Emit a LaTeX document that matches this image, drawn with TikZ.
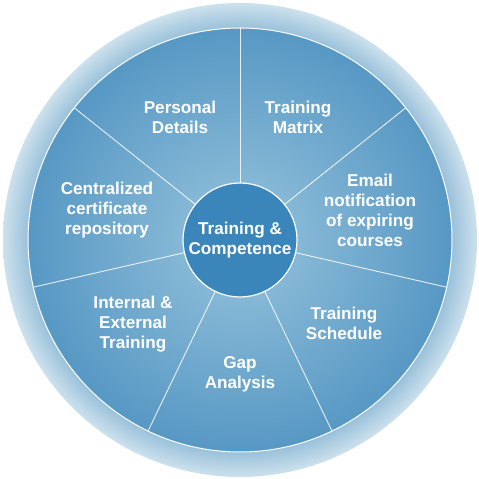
\documentclass[tikz,border=0pt]{standalone}
\usepackage{fontspec}
\setmainfont{Liberation Sans}
\usetikzlibrary{calc}
\definecolor{ringin}{HTML}{98C0DA}
\definecolor{ringout}{HTML}{CDE1ED}
\definecolor{secin}{HTML}{86B8D6}
\definecolor{secout}{HTML}{5798C4}
\definecolor{hubfill}{HTML}{3A85BA}
\pgfdeclareradialshading{ringshade}{\pgfpoint{0bp}{0bp}}{color(0bp)=(ringin); color(22.3bp)=(ringin); color(25bp)=(ringout); color(50bp)=(ringout)}
\pgfdeclareradialshading{secshade}{\pgfpoint{0bp}{0bp}}{color(0bp)=(secin); color(6.7bp)=(secin); color(25bp)=(secout); color(50bp)=(secout)}
\tikzset{
  lbl/.style={text=white, font=\bfseries\fontsize{17.2}{20}\selectfont, align=center, inner sep=0pt},
  divider/.style={draw=white, opacity=0.85, line width=0.9bp},
}
\begin{document}
\begin{tikzpicture}[x=1bp,y=1bp]
\useasboundingbox (0,0) rectangle (479,479);
\coordinate (C) at (240,239);
% outer ring
\shade[shading=ringshade] (C) circle[radius=237];
% sector disc
\shade[shading=secshade] (C) circle[radius=212];
\draw[white, line width=1bp] (C) circle[radius=212];
% dividers
\foreach \a [count=\i] in {90,38.57,-12.86,-64.29,-115.71,-167.14,141.43}{
  \coordinate (d\i) at ($(C)+(\a:212)$);
  \draw[divider] (C) -- (d\i);
}
% hub
\node[circle, fill=hubfill, draw=white, line width=1.2bp, minimum size=114bp, inner sep=0pt] (hub) at (C) {};
\node[lbl] (hubt) at (C) {Training \&\\Competence};
% labels
\node[lbl] (pd) at (180,362) {Personal\\Details};
\node[lbl] (tm) at (298,362) {Training\\Matrix};
\node[lbl] (em) at (370,269) {Email\\notification\\of expiring\\courses};
\node[lbl] (cc) at (107,269) {Centralized\\certificate\\repository};
\node[lbl] (ie) at (133,155) {Internal \&\\External\\Training};
\node[lbl] (ga) at (240,105) {Gap\\Analysis};
\node[lbl] (ts) at (344,156) {Training\\Schedule};
\end{tikzpicture}
\end{document}
